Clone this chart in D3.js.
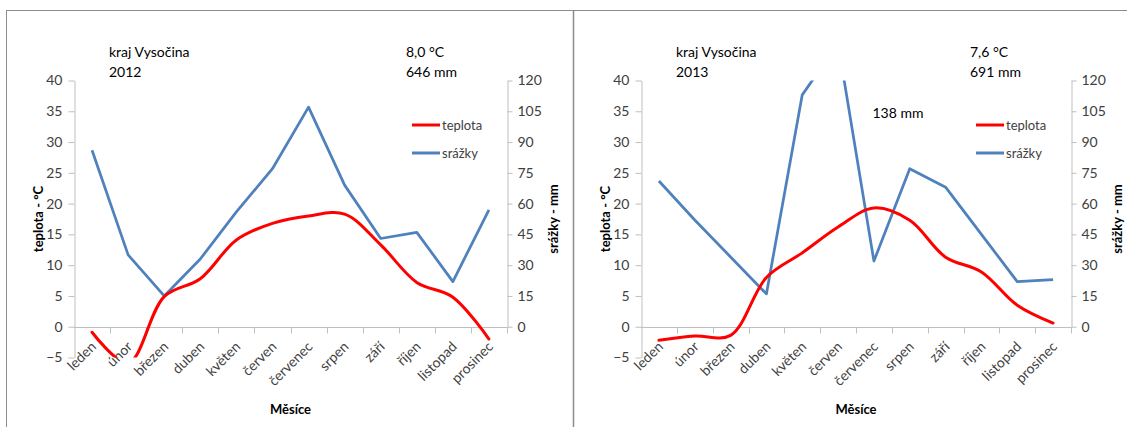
<!DOCTYPE html>
<html lang="cs">
<head>
<meta charset="utf-8">
<script src="https://cdn.jsdelivr.net/npm/d3@7"></script>
<style>
  html, body { margin: 0; padding: 0; background: #fff; }
  svg { display: block; font-family: Lato, "Open Sans", sans-serif; }
</style>
</head>
<body>
<svg id="chart" width="1127" height="427"></svg>
<script>
// Months on the category axis
const months = ["leden", "únor", "březen", "duben", "květen", "červen",
                "červenec", "srpen", "září", "říjen", "listopad", "prosinec"];

// Monthly mean temperature (°C), kraj Vysočina
const temp2012 = [-0.9, -5.9, 4.9, 7.8, 14.1, 16.8, 18.0, 18.3, 13.3, 7.2, 4.8, -2.0];
const temp2013 = [-2.2, -1.5, -1.4, 8.0, 12.0, 16.2, 19.3, 17.3, 11.3, 8.9, 3.5, 0.6];

// Monthly precipitation (mm), kraj Vysočina
const precip2012 = [86, 35, 15, 33, 56, 77, 107, 69, 43, 46, 22, 57];
const precip2013 = [71, 52, 34, 16, 113, 138, 32, 77, 68, 45, 22, 23];

// Axis ticks
const tempTicks = [-5, 0, 5, 10, 15, 20, 25, 30, 35, 40];
const precipTicks = [0, 15, 30, 45, 60, 75, 90, 105, 120];

// Header texts
const years = ["2012", "2013"];
const meanTemps = ["8,0 °C", "7,6 °C"];
const totalPrecips = ["646 mm", "691 mm"];
const region = "kraj Vysočina";
const seriesNames = ["teplota", "srážky"];

const RED = "#ff0000";
const BLUE = "#4f81bd";
const AXIS = "#bfbfbf";
const TXT = "#404040";

const svg = d3.select("#chart");

// Chart frames
svg.append("rect")
  .attr("x", 6.5).attr("y", 10.5)
  .attr("width", 1140).attr("height", 440)
  .attr("fill", "none").attr("stroke", "#8c8c8c").attr("stroke-width", 1);
svg.append("line")
  .attr("x1", 573.5).attr("x2", 573.5).attr("y1", 10).attr("y2", 427)
  .attr("stroke", "#8c8c8c").attr("stroke-width", 1.5);

const panels = [
  { id: "p2012", x0: 74, x1: 507, temp: temp2012, precip: precip2012, year: years[0],
    meanT: meanTemps[0], totalP: totalPrecips[0], note: null },
  { id: "p2013", x0: 641, x1: 1071, temp: temp2013, precip: precip2013, year: years[1],
    meanT: meanTemps[1], totalP: totalPrecips[1], note: { text: "138 mm", x: 872.5, y: 118 } }
];

const yTop = 80.5, yBottom = 357.5;

panels.forEach(p => {
  const g = svg.append("g");

  const x = d3.scaleBand().domain(months).range([p.x0, p.x1]).paddingInner(0).paddingOuter(0);
  const cx = m => x(m) + x.bandwidth() / 2;
  const yT = d3.scaleLinear().domain([-5, 40]).range([yBottom, yTop]);
  const yP = d3.scaleLinear().domain([0, 120]).range([yT(0), yT(40)]);

  // Left axis (temperature)
  const axL = g.append("g").attr("transform", `translate(${p.x0 + 0.5},0)`)
    .call(d3.axisLeft(yT).tickValues(tempTicks).tickSize(6).tickSizeOuter(0).tickPadding(6));
  // Right axis (precipitation)
  const axR = g.append("g").attr("transform", `translate(${p.x1 + 0.5},0)`)
    .call(d3.axisRight(yP).tickValues(precipTicks).tickSize(5).tickSizeOuter(0).tickPadding(5));
  [axL, axR].forEach(a => {
    a.select(".domain").attr("stroke", AXIS);
    a.selectAll(".tick line").attr("stroke", AXIS);
    a.selectAll(".tick text").attr("fill", TXT).style("font-size", "14px")
      .style("font-family", "Lato, sans-serif");
  });

  // Category axis along the zero line
  const y0 = Math.round(yT(0)) + 0.5;
  g.append("line").attr("x1", p.x0).attr("x2", p.x1 + 0.5)
    .attr("y1", y0).attr("y2", y0).attr("stroke", AXIS);
  const bounds = months.slice(1).map(m => x(m)).concat([p.x1]);
  g.selectAll("line.ctick").data(bounds).join("line")
    .attr("class", "ctick")
    .attr("x1", d => Math.round(d) + 0.5).attr("x2", d => Math.round(d) + 0.5)
    .attr("y1", y0).attr("y2", y0 + 6).attr("stroke", AXIS);
  g.selectAll("text.cat").data(months).join("text")
    .attr("class", "cat")
    .attr("transform", d => `translate(${cx(d) + 5},${y0 + 20}) rotate(-45)`)
    .attr("text-anchor", "end")
    .attr("fill", TXT).style("font-size", "14px")
    .text(d => d);

  // Axis titles
  g.append("text")
    .attr("transform", `translate(${p.x0 - 36},${(yTop + yBottom) / 2}) rotate(-90)`)
    .attr("text-anchor", "middle").attr("dy", "0.35em")
    .style("font-size", "13px").style("font-weight", "bold").attr("fill", "#000")
    .text("teplota - °C");
  g.append("text")
    .attr("transform", `translate(${p.x1 + 46},${(yTop + yBottom) / 2}) rotate(-90)`)
    .attr("text-anchor", "middle").attr("dy", "0.35em")
    .style("font-size", "13px").style("font-weight", "bold").attr("fill", "#000")
    .text("srážky - mm");
  g.append("text")
    .attr("x", (p.x0 + p.x1) / 2).attr("y", 414)
    .attr("text-anchor", "middle")
    .style("font-size", "13px").style("font-weight", "bold").attr("fill", "#000")
    .text("Měsíce");

  // Series, clipped to the plot area
  const clipId = "clip-" + p.id;
  svg.append("clipPath").attr("id", clipId).append("rect")
    .attr("x", p.x0).attr("y", yTop).attr("width", p.x1 - p.x0).attr("height", yBottom - yTop);
  const plot = g.append("g").attr("clip-path", `url(#${clipId})`);

  plot.append("path")
    .datum(months.map((m, i) => [cx(m), yP(p.precip[i])]))
    .attr("fill", "none").attr("stroke", BLUE).attr("stroke-width", 2.75)
    .attr("stroke-linejoin", "round")
    .attr("d", d3.line());
  plot.append("path")
    .datum(months.map((m, i) => [cx(m), yT(p.temp[i])]))
    .attr("fill", "none").attr("stroke", RED).attr("stroke-width", 3)
    .attr("stroke-linecap", "round")
    .attr("d", d3.line().curve(d3.curveCatmullRom.alpha(0.5)));

  // Header texts
  const hx = p.x0 + 35;
  g.append("text").attr("x", hx).attr("y", 57).style("font-size", "14px").attr("fill", "#000").text(region);
  g.append("text").attr("x", hx).attr("y", 77).style("font-size", "14px").attr("fill", "#000").text(p.year);
  const sx = p.x1 - 101;
  g.append("text").attr("x", sx).attr("y", 57).style("font-size", "14px").attr("fill", "#000").text(p.meanT);
  g.append("text").attr("x", sx).attr("y", 77).style("font-size", "14px").attr("fill", "#000").text(p.totalP);
  if (p.note) {
    g.append("text").attr("x", p.note.x).attr("y", p.note.y)
      .style("font-size", "14px").attr("fill", "#000").text(p.note.text);
  }

  // Legend
  const lx = p.x1 - 95;
  [RED, BLUE].forEach((c, i) => {
    const ly = 125 + i * 28;
    g.append("line").attr("x1", lx).attr("x2", lx + 28).attr("y1", ly).attr("y2", ly)
      .attr("stroke", c).attr("stroke-width", 3);
    g.append("text").attr("x", lx + 30).attr("y", ly).attr("dy", "0.35em")
      .style("font-size", "13px").attr("fill", TXT).text(seriesNames[i]);
  });
});
</script>
</body>
</html>
